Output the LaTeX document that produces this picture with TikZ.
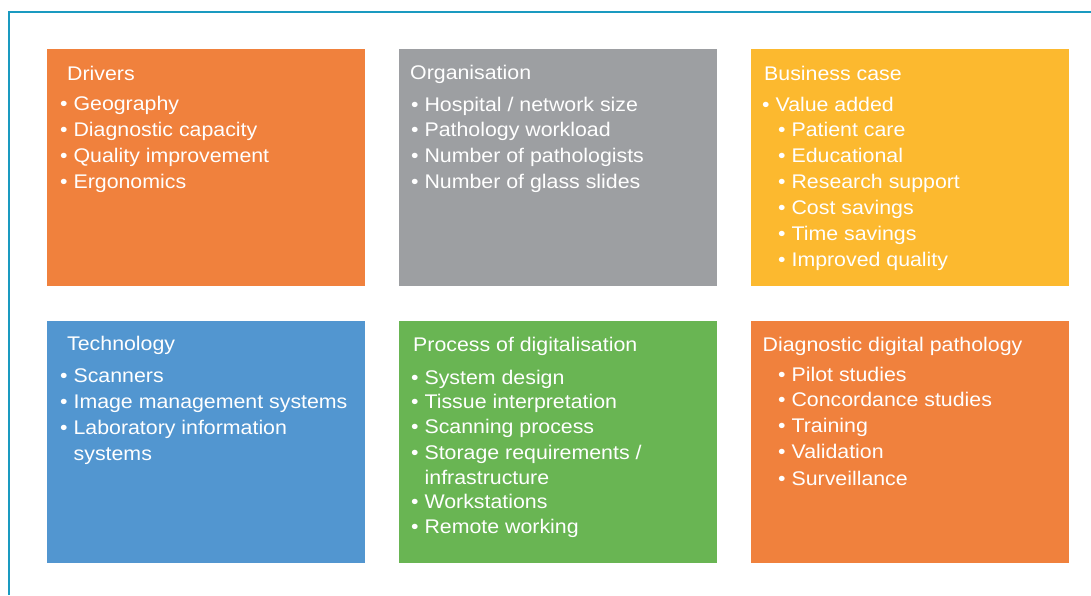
\documentclass[tikz,border=0pt]{standalone}
\usepackage{fontspec}
\newfontfamily\boxfont[FakeStretch=1.08]{Liberation Sans}
\usepackage{tikz}
\definecolor{frameteal}{HTML}{1A9AC0}
\definecolor{panelorange}{HTML}{F0813D}
\definecolor{panelgray}{HTML}{9D9FA2}
\definecolor{panelyellow}{HTML}{FCB92F}
\definecolor{panelblue}{HTML}{5296D0}
\definecolor{panelgreen}{HTML}{69B553}
\tikzset{
  panel/.style={rectangle,draw=none,minimum width=318pt,minimum height=#1,inner sep=0pt,anchor=north west},
  lbl/.style={anchor=base west,inner sep=0pt,text=white,font=\boxfont\fontsize{19.75}{23}\selectfont},
}

\begin{document}
\begin{tikzpicture}[x=1pt,y=-1pt]
            \useasboundingbox (0,0) rectangle (1091,595);
            % Frame
            \draw[frameteal,line width=2pt](9,595)--(9,12)--(1091,12);
            % Panels
            \node[panel=237pt,fill=panelorange](drivers)at(47,49){};
            \node[panel=237pt,fill=panelgray](organisation)at(399,49){};
            \node[panel=237pt,fill=panelyellow](business)at(751,49){};
            \node[panel=242pt,fill=panelblue](technology)at(47,321){};
            \node[panel=242pt,fill=panelgreen](process)at(399,321){};
            \node[panel=242pt,fill=panelorange](diagnostic)at(751,321){};
            % Drivers
            \node[lbl](drivers-t)at(67,80){Drivers};
            \node[lbl](drivers-1)at(60,110){• Geography};
            \node[lbl](drivers-2)at(60,136){• Diagnostic capacity};
            \node[lbl](drivers-3)at(60,162){• Quality improvement};
            \node[lbl](drivers-4)at(60,188){• Ergonomics};
            % Organisation
            \node[lbl](organisation-t)at(410,79){Organisation};
            \node[lbl](organisation-1)at(411,111){• Hospital / network size};
            \node[lbl](organisation-2)at(411,136){• Pathology workload};
            \node[lbl](organisation-3)at(411,162){• Number of pathologists};
            \node[lbl](organisation-4)at(411,188){• Number of glass slides};
            % Business case
            \node[lbl](business-t)at(764,80){Business case};
            \node[lbl](business-1)at(762,111){• Value added};
            \node[lbl](business-2)at(778,136){• Patient care};
            \node[lbl](business-3)at(778,162){• Educational};
            \node[lbl](business-4)at(778,188){• Research support};
            \node[lbl](business-5)at(778,214){• Cost savings};
            \node[lbl](business-6)at(778,240){• Time savings};
            \node[lbl](business-7)at(778,266){• Improved quality};
            % Technology
            \node[lbl](technology-t)at(67,350){Technology};
            \node[lbl](technology-1)at(60,382){• Scanners};
            \node[lbl](technology-2)at(60,408){• Image management systems};
            \node[lbl](technology-3)at(60,434){• Laboratory information};
            \node[lbl](technology-3b)at(73.5,460){systems};
            % Process of digitalisation
            \node[lbl](process-t)at(413,351.5){Process of digitalisation};
            \node[lbl](process-1)at(411,384){• System design};
            \node[lbl](process-2)at(411,408.5){• Tissue interpretation};
            \node[lbl](process-3)at(411,433){• Scanning process};
            \node[lbl](process-4)at(411,459){• Storage requirements /};
            \node[lbl](process-4b)at(424.5,484.5){infrastructure};
            \node[lbl](process-5)at(411,508.5){• Workstations};
            \node[lbl](process-6)at(411,533.5){• Remote working};
            % Diagnostic digital pathology
            \node[lbl](diagnostic-t)at(762.5,351){Diagnostic digital pathology};
            \node[lbl](diagnostic-1)at(778,381){• Pilot studies};
            \node[lbl](diagnostic-2)at(778,406.5){• Concordance studies};
            \node[lbl](diagnostic-3)at(778,432.5){• Training};
            \node[lbl](diagnostic-4)at(778,458){• Validation};
            \node[lbl](diagnostic-5)at(778,485){• Surveillance};
        \end{tikzpicture}
\end{document}
